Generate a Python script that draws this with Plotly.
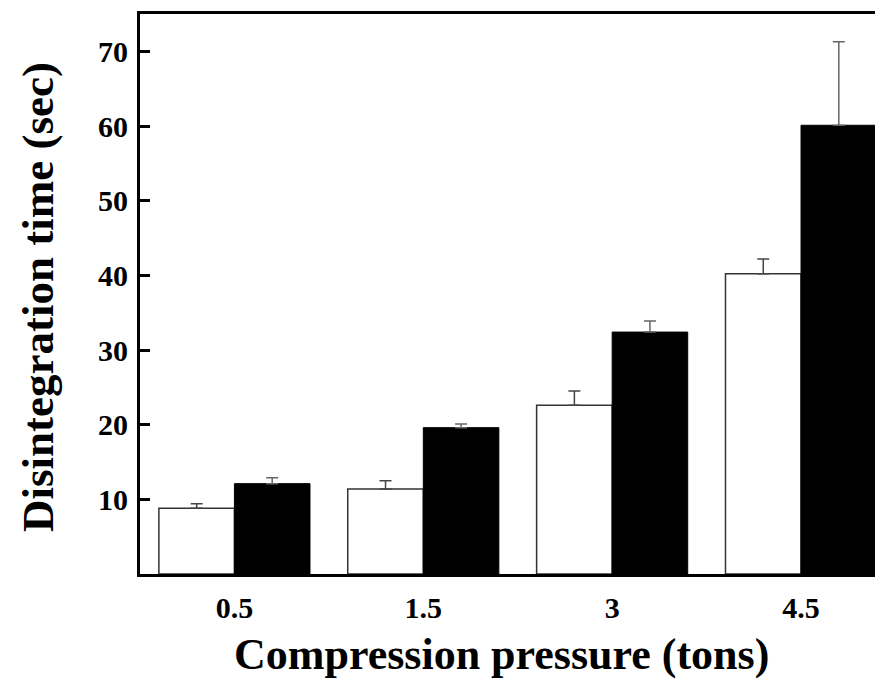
import plotly.graph_objects as go

pressures = ["0.5", "1.5", "3", "4.5"]
white_vals = [8.8, 11.4, 22.6, 40.2]
white_err = [0.6, 1.1, 1.9, 2.0]
black_vals = [12.1, 19.6, 32.4, 60.1]
black_err = [0.8, 0.5, 1.5, 11.2]
y_ticks = [10, 20, 30, 40, 50, 60, 70]

FONT = "Liberation Serif"

fig = go.Figure()
fig.add_trace(go.Bar(
    x=pressures, y=white_vals,
    marker=dict(color="white", line=dict(color="#333333", width=1.5)),
    error_y=dict(type="data", symmetric=False, array=white_err,
                 arrayminus=[0] * len(white_err), color="#444444",
                 thickness=1.5, width=6),
    showlegend=False,
))
fig.add_trace(go.Bar(
    x=pressures, y=black_vals,
    marker=dict(color="black", line=dict(color="black", width=1)),
    error_y=dict(type="data", symmetric=False, array=black_err,
                 arrayminus=[0] * len(black_err), color="#666666",
                 thickness=1.5, width=6),
    showlegend=False,
))

# page has an 8px body margin; compensate so the plot lands where the reference does
fig.update_layout(
    width=875, height=675,
    margin=dict(l=132, r=0, t=6, b=109),
    paper_bgcolor="white", plot_bgcolor="white",
    barmode="group", bargap=0.2, bargroupgap=0,
    font=dict(family=FONT, color="black"),
)
fig.update_xaxes(
    type="category", range=[-0.5, 3.434],
    showline=True, linecolor="black", linewidth=3, mirror=True,
    ticks="", showgrid=False,
    tickfont=dict(family=FONT, size=30, weight="bold"),
    ticklabelstandoff=5,
)
fig.update_yaxes(
    range=[0, 75], tickvals=y_ticks,
    showline=True, linecolor="black", linewidth=3, mirror=False,
    ticks="inside", ticklen=10, tickwidth=3, tickcolor="black",
    showgrid=False, zeroline=False,
    tickfont=dict(family=FONT, size=30, weight="bold"),
    ticklabelstandoff=3,
)
fig.add_annotation(
    text="Compression pressure (tons)", xref="paper", yref="paper",
    x=(501 - 140) / 743, y=-(654 - 574) / 560, showarrow=False,
    font=dict(family=FONT, size=44, weight="bold"), xanchor="center", yanchor="middle",
)
fig.add_annotation(
    text="Disintegration time (sec)", xref="paper", yref="paper",
    x=-(140 - 38) / 743, y=(574 - 297) / 560, showarrow=False, textangle=-90,
    font=dict(family=FONT, size=45, weight="bold"), xanchor="center", yanchor="middle",
)

fig.write_html("out.html")
